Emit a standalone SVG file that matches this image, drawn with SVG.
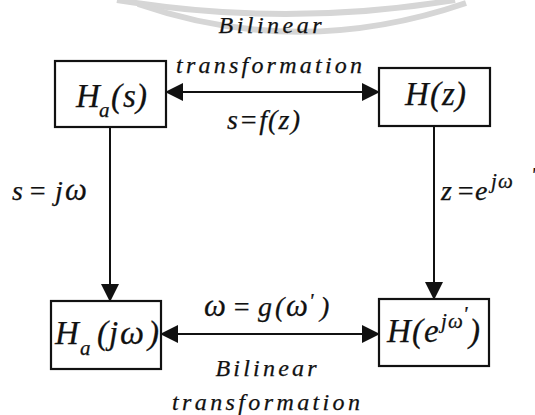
<svg xmlns="http://www.w3.org/2000/svg" width="535" height="415" viewBox="0 0 535 415">
<defs>
<marker id="ah" markerUnits="userSpaceOnUse" markerWidth="18" markerHeight="18" refX="17" refY="9" orient="auto-start-reverse" viewBox="0 0 18 18">
<path d="M0,0 L18,9 L0,18 Z" fill="#111"/>
</marker>
</defs>
<style>
.bg{fill:#fff}
.wm{fill:none;stroke:#d6d6d6;stroke-width:6}
.box{fill:#fff;stroke:#111;stroke-width:2.2}
.ln{fill:none;stroke:#111;stroke-width:2}
.t{font-family:'Liberation Serif','Times New Roman',serif;font-style:italic;fill:#111;stroke:#111;stroke-width:0.25}
.w{font-size:24px}
.m{font-size:33px}
.l{font-size:28px}
.s{font-size:21px}
</style>
<rect class="bg" x="0" y="0" width="535" height="415"/>
<g id="watermark">
<path class="wm" d="M117,0 Q285,28 455,0"/>
<path class="wm" d="M138,4 Q300,60 466,3"/>
</g>
<g id="connectors">
<line class="ln" x1="166" y1="92" x2="379" y2="92" marker-start="url(#ah)" marker-end="url(#ah)"/>
<line class="ln" x1="110" y1="127" x2="110" y2="301" marker-end="url(#ah)"/>
<line class="ln" x1="434" y1="126" x2="434" y2="299" marker-end="url(#ah)"/>
<line class="ln" x1="161" y1="334" x2="379" y2="334" marker-start="url(#ah)" marker-end="url(#ah)"/>
<text class="t w" x="270" y="33" text-anchor="middle" textLength="103" lengthAdjust="spacing">Bilinear</text>
<text class="t w" x="269" y="73" text-anchor="middle" textLength="186" lengthAdjust="spacing">transformation</text>
<text class="t" style="font-size:28px" x="227" y="129" textLength="73" lengthAdjust="spacing">s=f(z)</text>
<text class="t l" x="12" y="200">s</text>
<text class="t l" x="28" y="200">=</text>
<text class="t l" x="55" y="200">j</text>
<text class="t" style="font-size:31px" x="65" y="200">ω</text>
<text class="t l" x="441" y="200">z</text>
<text class="t l" x="456" y="200">=</text>
<text class="t l" x="475" y="200">e</text>
<text class="t s" x="491" y="188">j</text>
<text class="t s" x="498" y="188">ω</text>
<text class="t s" x="531" y="182">'</text>
<text class="t" style="font-size:31px" x="204" y="316">ω</text>
<text class="t l" x="232" y="316">=</text>
<text class="t l" x="258" y="316">g</text>
<text class="t l" x="275" y="316">(</text>
<text class="t" style="font-size:31px" x="286" y="316">ω</text>
<text class="t s" x="309" y="308">'</text>
<text class="t l" x="320" y="316">)</text>
<text class="t w" x="266" y="376" text-anchor="middle" textLength="101" lengthAdjust="spacing">Bilinear</text>
<text class="t w" x="266" y="410" text-anchor="middle" textLength="188" lengthAdjust="spacing">transformation</text>
</g>
<g id="node-Has">
<rect class="box" x="55" y="61" width="111" height="66"/>
<text class="t m" x="76" y="107">H</text>
<text class="t s" x="99" y="117">a</text>
<text class="t m" x="111" y="107">(</text>
<text class="t m" x="123" y="107">s</text>
<text class="t m" x="136" y="107">)</text>
</g>
<g id="node-Hz">
<rect class="box" x="379" y="68" width="111" height="58"/>
<text class="t m" x="405" y="105">H</text>
<text class="t m" x="430" y="105">(</text>
<text class="t m" x="442" y="105">z</text>
<text class="t m" x="455" y="105">)</text>
</g>
<g id="node-Hajw">
<rect class="box" x="51" y="301" width="110" height="68"/>
<text class="t m" x="55" y="344">H</text>
<text class="t s" x="80" y="355">a</text>
<text class="t m" x="97" y="344">(</text>
<text class="t m" x="109" y="344">j</text>
<text class="t" style="font-size:34px" x="120" y="344">ω</text>
<text class="t m" x="148" y="344">)</text>
</g>
<g id="node-Hejw">
<rect class="box" x="379" y="299" width="110" height="67"/>
<text class="t m" x="387" y="342">H</text>
<text class="t m" x="412" y="342">(</text>
<text class="t m" x="424" y="342">e</text>
<text class="t s" x="441" y="328">j</text>
<text class="t s" x="448" y="328">ω</text>
<text class="t s" x="463" y="321">'</text>
<text class="t m" x="469" y="342">)</text>
</g>
</svg>
